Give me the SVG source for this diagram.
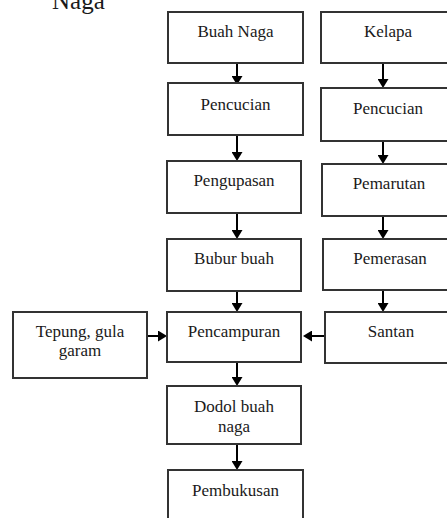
<svg xmlns="http://www.w3.org/2000/svg" width="447" height="518" viewBox="0 0 447 518">
<style>
.box{fill:#fff;stroke:#333;stroke-width:2}
.t{font-family:"Liberation Serif","Times New Roman",serif;font-size:17px;fill:#1a1a1a;text-anchor:middle}
.title{font-family:"Liberation Serif","Times New Roman",serif;font-size:25px;fill:#1a1a1a}
.c{stroke:#000;stroke-width:2;fill:none;marker-end:url(#ah)}
</style>
<defs>
<marker id="ah" markerUnits="userSpaceOnUse" viewBox="0 0 9 11" markerWidth="9" markerHeight="11" refX="5" refY="5.5" orient="auto">
<path d="M0,0 L9,5.5 L0,11 z" fill="#000"/>
</marker>
</defs>
<rect width="447" height="518" fill="#fff"/>
<text class="title" x="52" y="9">Naga</text>
<g id="connectors">
<line class="c" x1="237" y1="63" x2="237" y2="81"/>
<line class="c" x1="237" y1="135" x2="237" y2="157"/>
<line class="c" x1="237" y1="213" x2="237" y2="235"/>
<line class="c" x1="237" y1="291" x2="237" y2="308"/>
<line class="c" x1="237" y1="362" x2="237" y2="382"/>
<line class="c" x1="237" y1="444" x2="237" y2="466"/>
<line class="c" x1="383" y1="63" x2="383" y2="84"/>
<line class="c" x1="383" y1="141" x2="383" y2="160"/>
<line class="c" x1="383" y1="216" x2="383" y2="235"/>
<line class="c" x1="383" y1="286" x2="383" y2="308"/>
<line class="c" x1="147" y1="336" x2="163" y2="336"/>
<line class="c" x1="325" y1="336" x2="307" y2="336"/>
</g>
<g id="n1"><rect class="box" x="168" y="12" width="135" height="51"/><text class="t" x="235.5" y="37">Buah Naga</text></g>
<g id="n2"><rect class="box" x="321" y="12" width="135" height="51"/><text class="t" x="388" y="37">Kelapa</text></g>
<g id="n3"><rect class="box" x="168" y="83" width="135" height="52"/><text class="t" x="235.5" y="110">Pencucian</text></g>
<g id="n4"><rect class="box" x="321" y="88" width="135" height="53"/><text class="t" x="388" y="114">Pencucian</text></g>
<g id="n5"><rect class="box" x="167" y="161" width="134" height="52"/><text class="t" x="234" y="186">Pengupasan</text></g>
<g id="n6"><rect class="box" x="322" y="164" width="134" height="52"/><text class="t" x="389" y="189">Pemarutan</text></g>
<g id="n7"><rect class="box" x="167" y="239" width="134" height="52"/><text class="t" x="234" y="264">Bubur buah</text></g>
<g id="n8"><rect class="box" x="323" y="239" width="134" height="51"/><text class="t" x="390" y="264">Pemerasan</text></g>
<g id="n9"><rect class="box" x="325" y="312" width="134" height="51"/><text class="t" x="391" y="337">Santan</text></g>
<g id="n10"><rect class="box" x="167" y="312" width="134" height="50"/><text class="t" x="234" y="337">Pencampuran</text></g>
<g id="n11"><rect class="box" x="13" y="312" width="134" height="66"/><text class="t" x="80" y="337">Tepung, gula</text><text class="t" x="80" y="356">garam</text></g>
<g id="n12"><rect class="box" x="167" y="386" width="134" height="58"/><text class="t" x="234" y="412">Dodol buah</text><text class="t" x="234" y="432">naga</text></g>
<g id="n13"><rect class="box" x="168" y="470" width="135" height="60"/><text class="t" x="235.5" y="496">Pembukusan</text></g>
</svg>
